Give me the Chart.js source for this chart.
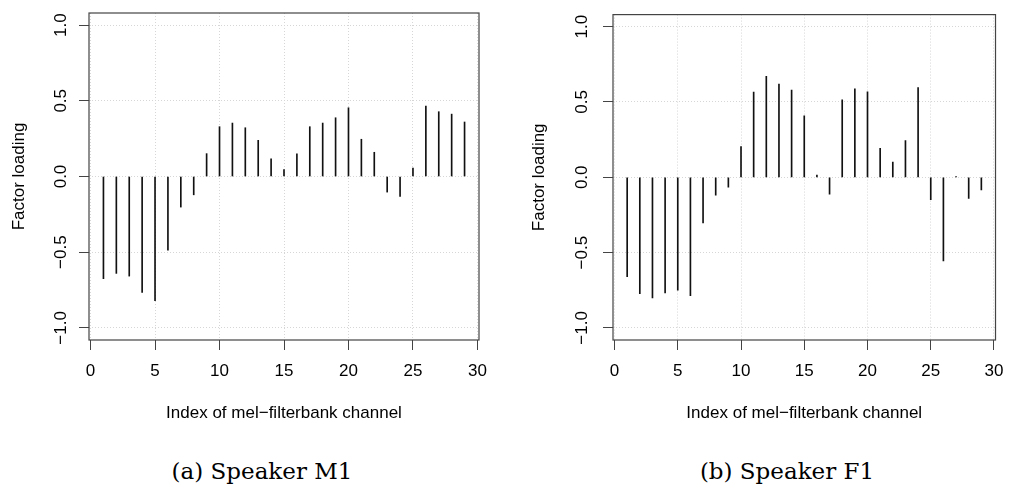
<!DOCTYPE html>
<html>
<head>
<meta charset="utf-8">
<script src="https://cdn.jsdelivr.net/npm/chart.js@4.4.1/dist/chart.umd.min.js"></script>
<style>
  body { margin: 0; background: #fff; width: 1015px; height: 493px; position: relative; overflow: hidden; }
  canvas { position: absolute; top: 0; }
  #chartM1 { left: 0; }
  #chartF1 { left: 507px; }
  .caption { position: absolute; top: 458px; line-height: 27px; font-family: 'DejaVu Serif', serif; font-size: 23px; color: #000; transform: translateX(-50%); white-space: nowrap; }
</style>
</head>
<body>
<canvas id="chartM1" width="507" height="440"></canvas>
<canvas id="chartF1" width="508" height="440"></canvas>
<div class="caption" style="left:262px">(a) Speaker M1</div>
<div class="caption" style="left:787px">(b) Speaker F1</div>
<script>
        const channels = [1, 2, 3, 4, 5, 6, 7, 8, 9, 10, 11, 12, 13, 14, 15, 16, 17, 18, 19, 20, 21, 22, 23, 24, 25, 26, 27, 28, 29];
        const loadingsM1 = [-0.675, -0.640, -0.658, -0.765, -0.820, -0.487, -0.202, -0.121, 0.151, 0.329,
                            0.353, 0.322, 0.239, 0.116, 0.046, 0.149, 0.329, 0.353, 0.388, 0.454,
                            0.246, 0.160, -0.103, -0.132, 0.055, 0.465, 0.428, 0.412, 0.360];
        const loadingsF1 = [-0.660, -0.772, -0.800, -0.768, -0.750, -0.785, -0.303, -0.118, -0.066, 0.204,
                            0.566, 0.671, 0.618, 0.579, 0.408, 0.015, -0.112, 0.515, 0.588, 0.568,
                            0.193, 0.101, 0.243, 0.596, -0.149, -0.555, 0.004, -0.140, -0.083];
        const xTicks = [0, 5, 10, 15, 20, 25, 30];
        const xTickLabels = ['0', '5', '10', '15', '20', '25', '30'];
        const yTicks = [-1, -0.5, 0, 0.5, 1];
        const yTickLabels = ['\u22121.0', '\u22120.5', '0.0', '0.5', '1.0'];

        const fontFamily = "'Liberation Sans', Arial, Helvetica, sans-serif";

        // box around the plot region, like R's box()
        const framePlugin = {
            id: 'frame',
            afterDraw(chart) {
                const { ctx, chartArea: a } = chart;
                ctx.save();
                ctx.strokeStyle = '#444';
                ctx.lineWidth = 1.2;
                ctx.strokeRect(a.left, a.top, a.right - a.left, a.bottom - a.top);
                ctx.restore();
            }
        };

        function makeChart(id, values, yWidth, rightPad, titlePad, tickPad) {
            const ctx = document.getElementById(id).getContext('2d');
            return new Chart(ctx, {
                type: 'bar',
                data: {
                    datasets: [{
                        data: channels.map((c, i) => ({ x: c, y: values[i] })),
                        backgroundColor: '#111',
                        borderWidth: 0,
                        barThickness: 1
                    }]
                },
                options: {
                    responsive: false,
                    animation: false,
                    devicePixelRatio: 1,
                    layout: { padding: { left: 0, top: 13, right: rightPad, bottom: 0 } },
                    plugins: {
                        legend: { display: false },
                        tooltip: { enabled: false }
                    },
                    scales: {
                        x: {
                            type: 'linear',
                            min: -0.12,
                            max: 30.12,
                            offset: false,
                            afterFit: s => { s.height = 100; },
                            afterBuildTicks: s => { s.ticks = xTicks.map(v => ({ value: v })); },
                            grid: { offset: false, color: '#d6d6d6', lineWidth: 1, tickColor: '#444', tickLength: 10, tickWidth: 1 },
                            border: { display: false, dash: [1, 2] },
                            ticks: {
                                autoSkip: false,
                                maxRotation: 0,
                                padding: 11.5,
                                color: '#000',
                                font: { family: fontFamily, size: 17 },
                                callback: v => xTickLabels[xTicks.indexOf(v)]
                            },
                            title: {
                                display: true,
                                text: 'Index of mel\u2212filterbank channel',
                                color: '#000',
                                font: { family: fontFamily, size: 17 },
                                padding: { top: 0, bottom: 16.5 }
                            }
                        },
                        y: {
                            min: -1.08,
                            max: 1.08,
                            afterFit: s => { s.width = yWidth; },
                            afterBuildTicks: s => { s.ticks = yTicks.map(v => ({ value: v })); },
                            grid: { color: '#d6d6d6', lineWidth: 1, tickColor: '#444', tickLength: 10, tickWidth: 1 },
                            border: { display: false, dash: [1, 2] },
                            ticks: {
                                autoSkip: false,
                                minRotation: 90,
                                maxRotation: 90,
                                crossAlign: 'center',
                                padding: tickPad,
                                color: '#000',
                                font: { family: fontFamily, size: 17 },
                                callback: v => yTickLabels[yTicks.indexOf(v)]
                            },
                            title: {
                                display: true,
                                text: 'Factor loading',
                                color: '#000',
                                font: { family: fontFamily, size: 17 },
                                padding: { top: titlePad, bottom: 0 }
                            }
                        }
                    }
                },
                plugins: [framePlugin]
            });
        }

        makeChart('chartM1', loadingsM1, 89, 28, 8.8, 1.2);
        makeChart('chartF1', loadingsF1, 106, 12, 21.8, 4.4);
</script>
</body>
</html>
